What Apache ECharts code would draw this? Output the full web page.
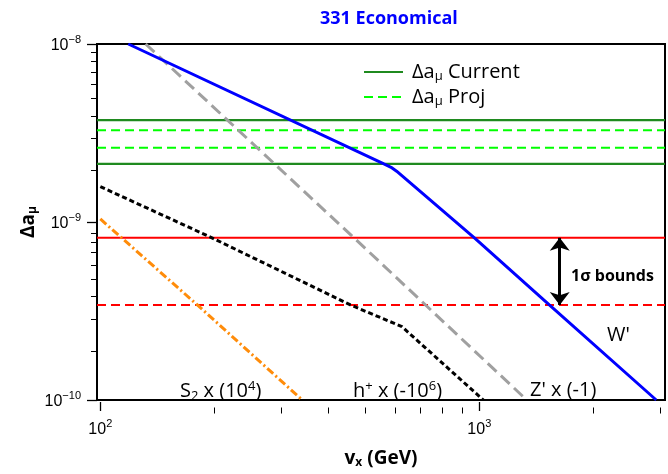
<!DOCTYPE html>
<html>
<head>
<meta charset="utf-8">
<script src="https://cdn.jsdelivr.net/npm/echarts@6/dist/echarts.min.js"></script>
<style>html,body{margin:0;padding:0;background:#fff}#c{width:668px;height:474px}</style>
</head>
<body>
<div id="c"></div>
<script>
// ---- data ----
const xMajorTicks = [100, 1000];
const xMinorTicks = [200, 300, 400, 500, 600, 700, 800, 900, 2000, 3000];
const yMajorTicks = [1e-10, 1e-9, 1e-8];
const yMinorTicks = [2e-10, 3e-10, 4e-10, 5e-10, 6e-10, 7e-10, 8e-10, 9e-10,
                     2e-9, 3e-9, 4e-9, 5e-9, 6e-9, 7e-9, 8e-9, 9e-9];
const currentBand = [3.74e-9, 2.12e-9];
const projBand = [3.28e-9, 2.61e-9];
const sigmaBounds = [8.15e-10, 3.42e-10];
const sigmaArrowX = 1630;
const wPrime = [[118.5, 1.0e-8], [560, 2.12e-9], [585, 2.03e-9], [605, 1.93e-9], [974, 8.1e-10], [1530, 3.42e-10], [2930, 1.0e-10]];
const zPrime = [[131.7, 1.0e-8], [467, 8.15e-10], [1334, 1.0e-10]];
const hPlus = [[100, 1.58e-9], [197, 8.15e-10], [457, 3.42e-10], [590, 2.72e-10], [625, 2.58e-10], [1025, 1.0e-10]];
const s2 = [[100, 1.04e-9], [180.3, 3.42e-10], [341, 1.0e-10]];
const legendNames = ['Δaμ Current', 'Δaμ Proj'];

const xMin = 98, xMax = 3090, yMin = 1e-10, yMax = 1e-8;
const tickFont = 'Liberation Sans';
const mainFont = 'Open Sans';

function powLabel(v) {
  const e = Math.round(Math.log10(v));
  return '{b|10}{p|' + (e < 0 ? '\u2212' + (-e) : e) + '}';
}
const powRich = {
  b: {fontFamily: tickFont, fontSize: 16, color: '#000', lineHeight: 20, verticalAlign: 'bottom'},
  p: {fontFamily: tickFont, fontSize: 11, color: '#000', lineHeight: 20, verticalAlign: 'top'}
};
const gridRect = {left: 97, right: 3, top: 44, bottom: 68.5};

function hLine(name, v, style) {
  return {name: name, type: 'line', data: [[xMin, v], [xMax, v]], symbol: 'none', silent: true,
    z: 2, color: style.color, lineStyle: style};
}

const chart = echarts.init(document.getElementById('c'), null, {renderer: 'canvas'});
const txt = {fontFamily: mainFont, fontSize: 20, color: '#000'};
const sub = {fontFamily: mainFont, fontSize: 13, color: '#000', padding: [10, 0, 0, 0]};
const sup = {fontFamily: mainFont, fontSize: 13, color: '#000', padding: [0, 0, 10, 0]};

const greenDark = {color: '#1f8a1f', width: 2.2, type: 'solid'};
const greenLight = {color: '#00ff00', width: 2, type: [9, 5]};
const redSolid = {color: '#ff0000', width: 2, type: 'solid'};
const redDash = {color: '#ff0000', width: 2, type: [9, 5]};

chart.setOption({
  animation: false,
  title: {
    text: '331 Economical', left: 315, top: 5,
    textStyle: {fontFamily: mainFont, fontWeight: 'bold', fontSize: 18, color: '#0000ff'}
  },
  grid: [
    Object.assign({show: true, borderColor: '#000', borderWidth: 2, backgroundColor: 'transparent'}, gridRect),
    Object.assign({show: false}, gridRect)
  ],
  legend: {
    data: legendNames, orient: 'vertical', left: 358, top: 56,
    itemWidth: 39, itemHeight: 12, itemGap: 3,
    itemStyle: {opacity: 0},
    formatter: function (n) {
      const parts = n.split(' ');
      return '{n|' + parts[0].slice(0, 2) + '}{s|' + parts[0].slice(2) + '}{n| ' + parts.slice(1).join(' ') + '}';
    },
    textStyle: {
      padding: [0, 0, 0, 4],
      rich: {
        n: {fontFamily: mainFont, fontSize: 20, color: '#000', lineHeight: 22},
        s: {fontFamily: mainFont, fontSize: 13, color: '#000', lineHeight: 22, padding: [9, 0, 0, 0]}
      }
    }
  },
  xAxis: [
    {
      type: 'log', logBase: 10, min: xMin, max: xMax, gridIndex: 0, offset: 2,
      axisLine: {show: false}, splitLine: {show: false}, minorTick: {show: false},
      axisTick: {show: true, length: 9, customValues: xMajorTicks, lineStyle: {color: '#000', width: 1.3}},
      axisLabel: {customValues: xMajorTicks, formatter: powLabel, margin: 16, rich: powRich},
      name: '{b|v}{s|x}{b| (GeV)}', nameLocation: 'middle', nameGap: 46,
      nameTextStyle: {rich: {
        b: {fontFamily: mainFont, fontWeight: 'bold', fontSize: 19, color: '#000'},
        s: {fontFamily: mainFont, fontWeight: 'bold', fontSize: 12, color: '#000', padding: [9, 0, 0, 0]}
      }}
    },
    {
      type: 'log', logBase: 10, min: xMin, max: xMax, gridIndex: 1, offset: 2,
      axisLine: {show: false}, splitLine: {show: false},
      axisTick: {show: true, length: 6, customValues: xMinorTicks, lineStyle: {color: '#000', width: 1}},
      axisLabel: {show: false}
    }
  ],
  yAxis: [
    {
      type: 'log', logBase: 10, min: yMin, max: yMax, gridIndex: 0,
      axisLine: {show: false}, splitLine: {show: false},
      axisTick: {show: true, length: 10, customValues: yMajorTicks, lineStyle: {color: '#000', width: 1.3}},
      axisLabel: {customValues: yMajorTicks, formatter: powLabel, margin: 16, rich: powRich},
      name: '{b|Δa}{s|μ}', nameLocation: 'middle', nameGap: 58, nameMoveOverlap: false,
      nameTextStyle: {rich: {
        b: {fontFamily: mainFont, fontWeight: 'bold', fontSize: 19, color: '#000'},
        s: {fontFamily: mainFont, fontWeight: 'bold', fontSize: 12, color: '#000', padding: [9, 0, 0, 0]}
      }}
    },
    {
      type: 'log', logBase: 10, min: yMin, max: yMax, gridIndex: 1,
      axisLine: {show: false}, splitLine: {show: false},
      axisTick: {show: true, length: 6, customValues: yMinorTicks, lineStyle: {color: '#000', width: 1}},
      axisLabel: {show: false}
    }
  ],
  series: [
    hLine(legendNames[0], currentBand[0], greenDark),
    hLine(legendNames[0], currentBand[1], greenDark),
    hLine(legendNames[1], projBand[0], greenLight),
    hLine(legendNames[1], projBand[1], greenLight),
    hLine('σ upper', sigmaBounds[0], redSolid),
    hLine('σ lower', sigmaBounds[1], redDash),
    {
      name: 'sigma arrow', type: 'line', data: [], symbol: 'none',
      markLine: {silent: true, label: {show: false},
        data: [
          [{coord: [sigmaArrowX, sigmaBounds[0]], symbol: 'arrow', symbolSize: [15, 13],
            lineStyle: {color: '#000', width: 3, type: 'solid'}},
           {coord: [sigmaArrowX, sigmaBounds[1]], symbol: 'arrow', symbolSize: [15, 13]}]
        ]}
    },
    {name: 'S2', type: 'line', data: s2, symbol: 'none', z: 3,
      lineStyle: {color: '#ff8c0a', width: 3, type: [8, 3, 2, 3]}},
    {name: 'h+', type: 'line', data: hPlus, symbol: 'none', z: 3,
      lineStyle: {color: '#000', width: 3, type: [5, 3]}},
    {name: "Z'", type: 'line', data: zPrime, symbol: 'none', z: 3,
      lineStyle: {color: '#a0a0a0', width: 3, type: [12, 6]}},
    {name: "W'", type: 'line', data: wPrime, symbol: 'none', z: 4,
      lineStyle: {color: '#0000ff', width: 3}}
  ],
  graphic: [
    {type: 'text', left: 180, top: 380, style: {text: '{n|S}{s|2}{n| x (10}{p|4}{n|)}', rich: {n: txt, s: sub, p: sup}}},
    {type: 'text', left: 353, top: 380, style: {text: '{n|h}{p|+}{n| x (-10}{p|6}{n|)}', rich: {n: txt, s: sub, p: sup}}},
    {type: 'text', left: 530, top: 380, style: {text: "{n|Z' x (-1)}", rich: {n: txt}}},
    {type: 'text', left: 607, top: 325, style: {text: "{n|W'}", rich: {n: txt}}},
    {type: 'text', left: 571, top: 268, style: {text: '1σ bounds', fill: '#000', font: 'bold 16px "Open Sans"'}}
  ]
});
</script>
</body>
</html>
